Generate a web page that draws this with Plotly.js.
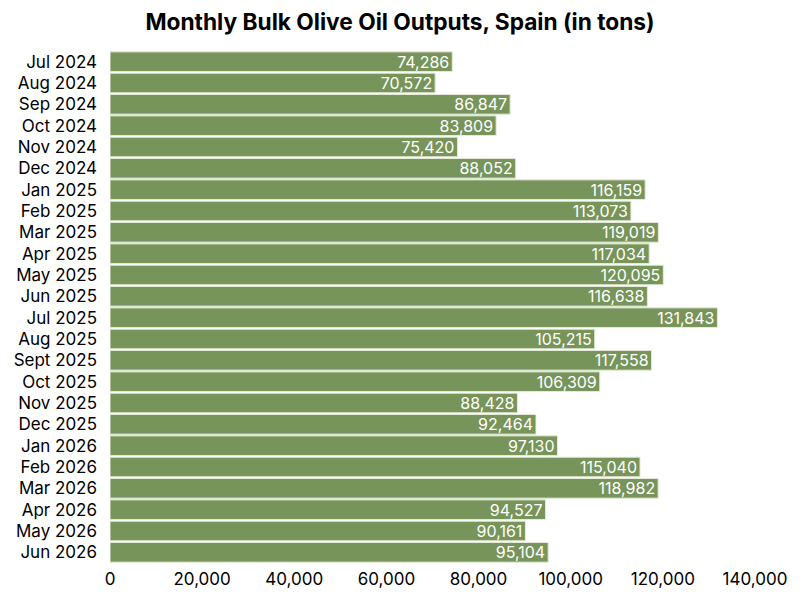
<!DOCTYPE html>
<html>
<head>
<meta charset="utf-8">
<script src="https://cdn.plot.ly/plotly-3.0.1.min.js"></script>
<style>html,body{margin:0;padding:0;background:#fff;}#chart{width:800px;height:600px;}</style>
</head>
<body>
<div id="chart"></div>
<script>
const months = ["Jul 2024","Aug 2024","Sep 2024","Oct 2024","Nov 2024","Dec 2024","Jan 2025","Feb 2025","Mar 2025","Apr 2025","May 2025","Jun 2025","Jul 2025","Aug 2025","Sept 2025","Oct 2025","Nov 2025","Dec 2025","Jan 2026","Feb 2026","Mar 2026","Apr 2026","May 2026","Jun 2026"];
const outputs = [74286,70572,86847,83809,75420,88052,116159,113073,119019,117034,120095,116638,131843,105215,117558,106309,88428,92464,97130,115040,118982,94527,90161,95104];
const xTicks = [0,20000,40000,60000,80000,100000,120000,140000];

const fmt = v => v.toLocaleString('en-US');

Plotly.newPlot('chart', [{
  type: 'bar',
  orientation: 'h',
  y: months,
  x: outputs,
  text: outputs.map(fmt),
  textposition: 'inside',
  insidetextanchor: 'end',
  constraintext: 'none',
  textfont: {family: 'Inter, sans-serif', size: 16, color: '#ffffff'},
  marker: {color: '#77945A', line: {color: '#e4ecd8', width: 1}},
  hoverinfo: 'none'
}], {
  width: 800, height: 600,
  paper_bgcolor: '#ffffff', plot_bgcolor: '#ffffff',
  font: {family: 'Inter, sans-serif', color: '#000'},
  title: {text: '<b>Monthly Bulk Olive Oil Outputs, Spain (in tons)</b>', x: 0.5, xanchor: 'center', y: 0.963, yanchor: 'middle', font: {size: 22.7, color: '#000'}},
  margin: {l: 110, r: 45, t: 51, b: 37},
  bargap: 0.08,
  showlegend: false,
  xaxis: {range: [0, 140000], tickvals: xTicks, ticktext: xTicks.map(fmt), showgrid: false, zeroline: false, showline: false, ticks: '', ticklabelstandoff: 4, tickfont: {size: 17, color: '#000'}},
  yaxis: {autorange: 'reversed', showgrid: false, zeroline: false, showline: false, ticks: '', ticklabelstandoff: 12, tickfont: {size: 17, color: '#000'}}
}, {displayModeBar: false, staticPlot: true});
</script>
</body>
</html>
